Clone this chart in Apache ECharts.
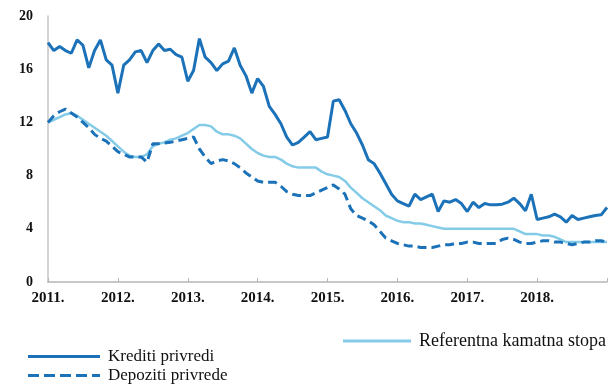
<!DOCTYPE html>
<html>
<head>
<meta charset="utf-8">
<script src="https://cdn.jsdelivr.net/npm/echarts@6/dist/echarts.min.js"></script>
<style>
  html, body { margin: 0; padding: 0; background: #ffffff; }
  #chart { width: 615px; height: 384px; }
</style>
</head>
<body>
<div id="chart"></div>
<script>
// Year tick labels on the horizontal axis
const yearLabels = ['2011.', '2012.', '2013.', '2014.', '2015.', '2016.', '2017.', '2018.'];
const firstYear = 2011;

// Monthly interest rates (%), January 2011 onwards
const krediti = [
  18.0, 17.4, 17.7, 17.4, 17.2, 18.2, 17.8, 16.1, 17.4, 18.2, 16.7, 16.3,
  14.2, 16.3, 16.7, 17.3, 17.4, 16.5, 17.4, 17.9, 17.4, 17.5, 17.1, 16.9,
  15.1, 15.9, 18.3, 16.9, 16.5, 15.9, 16.4, 16.6, 17.6, 16.3, 15.5, 14.2,
  15.3, 14.7, 13.2, 12.6, 11.9, 10.9, 10.3, 10.5, 10.9, 11.3, 10.7, 10.8,
  10.9, 13.6, 13.7, 12.9, 11.9, 11.2, 10.3, 9.2, 8.9, 8.2, 7.4, 6.6,
  6.1, 5.9, 5.7, 6.6, 6.2, 6.4, 6.6, 5.3, 6.1, 6.0, 6.2, 5.9,
  5.3, 6.0, 5.6, 5.9, 5.8, 5.8, 5.85, 6.0, 6.3, 5.9, 5.35, 6.6,
  4.7, 4.8, 4.9, 5.1, 4.9, 4.5, 5.0, 4.7, 4.8, 4.9, 5.0, 5.05, 5.6
];
const depoziti = [
  12.0, 12.5, 12.8, 13.0, 12.7, 12.4, 12.0, 11.6, 11.1, 10.8, 10.6, 10.2,
  9.8, 9.6, 9.4, 9.4, 9.4, 9.0, 10.4, 10.4, 10.45, 10.5, 10.6, 10.7,
  10.8, 10.9, 10.0, 9.4, 8.9, 9.1, 9.2, 9.1, 8.9, 8.6, 8.2, 7.9,
  7.6, 7.5, 7.5, 7.5, 7.2, 6.8, 6.6, 6.5, 6.5, 6.5, 6.7, 6.9,
  7.1, 7.3, 7.0, 6.6, 5.5, 5.0, 4.8, 4.6, 4.3, 3.8, 3.3, 3.1,
  2.9, 2.8, 2.7, 2.7, 2.6, 2.6, 2.6, 2.7, 2.8, 2.8, 2.9, 2.9,
  3.0, 3.0, 2.9, 2.9, 2.9, 2.9, 3.2, 3.3, 3.2, 3.0, 2.9, 2.9,
  3.0, 3.1, 3.1, 3.0, 3.0, 2.9, 2.8, 2.9, 3.0, 3.0, 3.1, 3.1, 3.0
];
const referentna = [
  12.0, 12.2, 12.4, 12.6, 12.7, 12.5, 12.2, 11.9, 11.6, 11.3, 11.0, 10.6,
  10.2, 9.8, 9.5, 9.4, 9.4, 9.6, 10.2, 10.4, 10.5, 10.7, 10.8, 11.0,
  11.2, 11.5, 11.8, 11.8, 11.7, 11.3, 11.1, 11.1, 11.0, 10.8, 10.4, 10.0,
  9.7, 9.5, 9.4, 9.4, 9.2, 8.9, 8.7, 8.6, 8.6, 8.6, 8.6, 8.3,
  8.1, 8.0, 7.9, 7.6, 7.1, 6.7, 6.3, 6.0, 5.7, 5.4, 5.0, 4.8,
  4.6, 4.5, 4.5, 4.4, 4.4, 4.3, 4.2, 4.1, 4.0, 4.0, 4.0, 4.0,
  4.0, 4.0, 4.0, 4.0, 4.0, 4.0, 4.0, 4.0, 4.0, 3.8, 3.6, 3.6,
  3.6, 3.5, 3.5, 3.4, 3.2, 3.0, 3.0, 3.0, 3.0, 3.0, 3.0, 3.0, 3.0
];

// Month categories matching the series length
const months = krediti.map((_, i) =>
  (firstYear + Math.floor(i / 12)) + '-' + String(i % 12 + 1).padStart(2, '0'));

const serif = '"Liberation Serif", "Times New Roman", serif';
const dark = '#1b72b9';
const light = '#84cbe7';

// Legend keys: a plain bar for solid lines, a row of bars for the dashed one
const solidKey = 'path://M0,0h72v3h-72z';
const dashedKey = 'path://M0,0h11v3h-11z M16,0h11v3h-11z M32,0h11v3h-11z M48,0h11v3h-11z M64,0h8v3h-8z';

function legendEntry(name, icon, left, top, width, size) {
  return {
    data: [{ name: name, icon: icon }],
    left: left, top: top,
    padding: 0,
    itemWidth: width, itemHeight: 3,
    itemStyle: { borderWidth: 0 },
    textStyle: { fontFamily: serif, fontSize: size, color: '#111', padding: [0, 0, 0, 3] }
  };
}

const chart = echarts.init(document.getElementById('chart'), null, { renderer: 'canvas' });
chart.setOption({
  animation: false,
  backgroundColor: '#ffffff',
  grid: { left: 48, right: 8, top: 16, bottom: 102 },
  xAxis: {
    type: 'category',
    data: months,
    boundaryGap: false,
    axisLine: { lineStyle: { color: '#b5b5b5', width: 1.5 } },
    axisTick: {
      inside: true, length: 4,
      interval: (idx) => idx % 12 === 0,
      lineStyle: { color: '#b5b5b5' }
    },
    axisLabel: {
      interval: (idx) => idx % 12 === 0 && idx / 12 < yearLabels.length,
      formatter: (val, idx) => yearLabels[Math.floor(idx / 12)] || '',
      margin: 9,
      color: '#111',
      fontFamily: serif,
      fontWeight: 'bold',
      fontSize: 15
    },
    splitLine: { show: false }
  },
  yAxis: {
    type: 'value',
    min: 0, max: 20, interval: 4,
    axisLine: { show: true, lineStyle: { color: '#c4c4c4', width: 1.5 } },
    axisTick: { show: false },
    splitLine: { show: false },
    axisLabel: {
      margin: 15,
      color: '#111',
      fontFamily: serif,
      fontWeight: 'bold',
      fontSize: 14
    }
  },
  legend: [
    legendEntry('Krediti privredi', solidKey, 28, 348, 72, 17),
    legendEntry('Depoziti privrede', dashedKey, 28, 367, 72, 17),
    legendEntry('Referentna kamatna stopa', solidKey, 343, 332, 68, 18)
  ],
  series: [
    {
      name: 'Referentna kamatna stopa',
      type: 'line',
      data: referentna,
      showSymbol: false, symbol: 'none',
      lineStyle: { color: light, width: 2.5 },
      itemStyle: { color: light },
      z: 1
    },
    {
      name: 'Depoziti privrede',
      type: 'line',
      data: depoziti,
      showSymbol: false, symbol: 'none',
      lineStyle: { color: dark, width: 3, type: [9, 5] },
      itemStyle: { color: dark },
      z: 2
    },
    {
      name: 'Krediti privredi',
      type: 'line',
      data: krediti,
      showSymbol: false, symbol: 'none',
      lineStyle: { color: dark, width: 3 },
      itemStyle: { color: dark },
      z: 3
    }
  ]
});
</script>
</body>
</html>
